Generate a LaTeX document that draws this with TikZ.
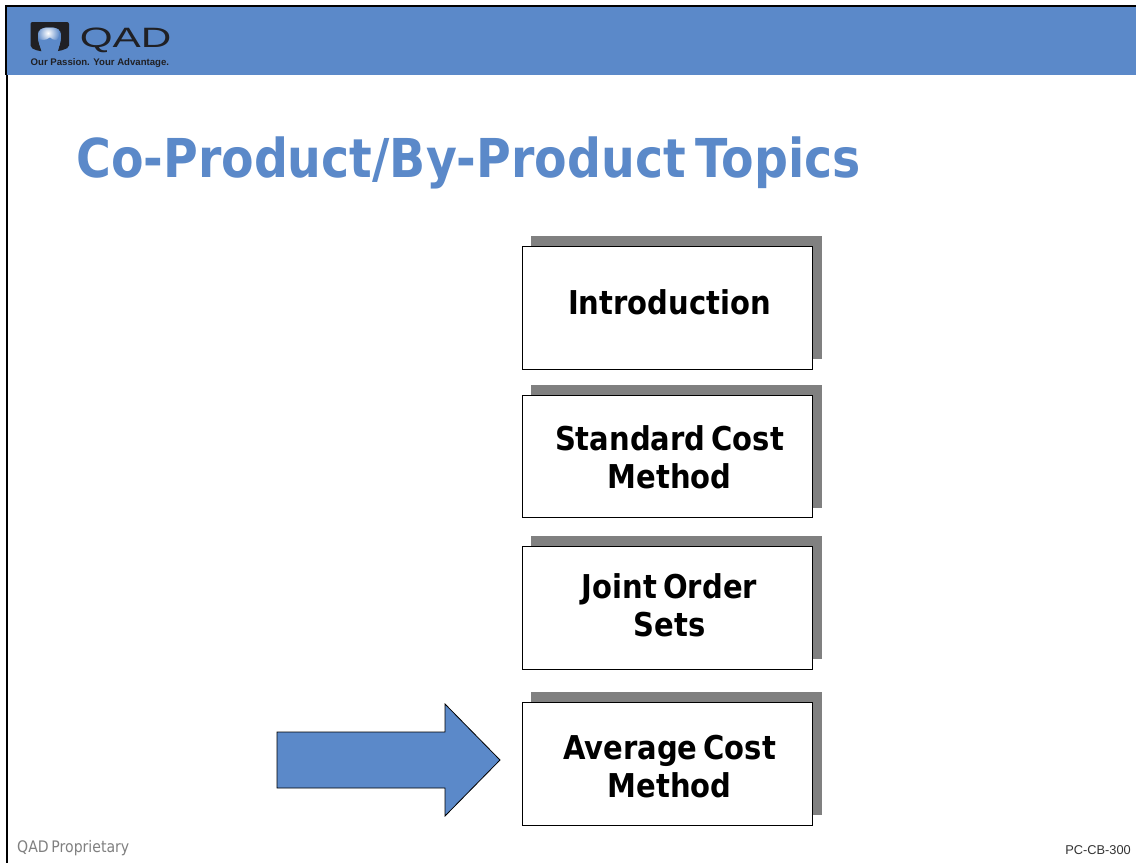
\documentclass[tikz,border=0pt]{standalone}
\usepackage{fontspec}
\setmainfont{DejaVu Sans}
\newfontfamily\tahoma[FakeStretch=0.885,WordSpace=0.6]{DejaVu Sans}
\newfontfamily\helv{Liberation Sans}
\definecolor{band}{RGB}{91,137,201}
\definecolor{shade}{RGB}{128,128,128}
\definecolor{logodark}{RGB}{32,32,36}
\tikzset{
  x=1pt,y=-1pt,
  shadowbox/.style={fill=shade,draw=none,minimum width=291pt,minimum height=123pt,inner sep=0pt,anchor=north west},
  topicbox/.style={fill=white,draw=black,line width=0.8pt,minimum width=290pt,minimum height=123pt,inner sep=0pt,anchor=north west},
  topictext/.style={font=\tahoma\bfseries\fontsize{32.8}{38}\selectfont,align=center,text=black,inner sep=0pt,anchor=center},
}
\begin{document}
\begin{tikzpicture}
\useasboundingbox (0,0) rectangle (1136,863);
\fill[white] (0,0) rectangle (1136,863);
% header band and frame
\fill[band] (6,6) rectangle (1136,75);
\fill[black] (5,4.5) rectangle (1136,6.5);
\fill[black] (5,4.5) rectangle (7,75);
\fill[black] (6.2,75) rectangle (8.2,863);
% logo
\fill[logodark,rounded corners=2pt] (30.5,22) -- (69,22) -- (69,47.5) -- (60,51) -- (38,51) -- (30.5,47.5) -- cycle;
\begin{scope}
\clip (42,52) .. controls (40,46) and (38,42) .. (38,36) .. controls (38,29) and (42,27.5) .. (49.5,27.5) .. controls (57,27.5) and (61,29) .. (61,36) .. controls (61,42) and (59,46) .. (57.5,52) -- cycle;
\fill[band] (30,20) rectangle (70,55);
\shade[inner color=white,outer color=band] (48,33) circle (11.5);
\fill[band] (36,55) -- (36,38) .. controls (42,41) and (46,40.5) .. (50,37.5) .. controls (53,40.5) and (57,41) .. (63,38) -- (63,55) -- cycle;
\end{scope}
\node[anchor=base west,inner sep=0pt,text=logodark,xscale=1.51,font=\helv\fontsize{28}{28}\selectfont] (logotext) at (79.5,47) {QAD};
\node[anchor=base west,inner sep=0pt,text=logodark,font=\helv\bfseries\fontsize{9.6}{10}\selectfont] (tagline) at (30.5,65) {Our Passion. Your Advantage.};
% title
\node[anchor=base west,inner sep=0pt,text=band,font=\tahoma\bfseries\fontsize{53.6}{56}\selectfont] (title) at (76,177) {Co-Product/By-Product Topics};
% boxes
\node[shadowbox] (s1) at (531,236) {};
\node[topicbox] (b1) at (522,246) {};
\node[topictext] (t1) at (669.5,302.5) {Introduction};
\node[shadowbox] (s2) at (531,385) {};
\node[topicbox,minimum height=122pt] (b2) at (522,395) {};
\node[topictext] (t2) at (669.5,457.5) {Standard Cost\\Method};
\node[shadowbox] (s3) at (531,536) {};
\node[topicbox] (b3) at (522,546) {};
\node[topictext] (t3) at (669.5,605.5) {Joint Order\\Sets};
\node[shadowbox] (s4) at (531,692) {};
\node[topicbox] (b4) at (522,702) {};
\node[topictext] (t4) at (669.5,766.5) {Average Cost\\Method};
% pointer arrow
\draw[fill=band,draw=black,line width=0.8pt,line join=miter] (277,732) -- (445,732) -- (445,704) -- (500,760) -- (445,816) -- (445,788) -- (277,788) -- cycle;
% footer
\node[anchor=base west,inner sep=0pt,text=shade,font=\tahoma\fontsize{15.9}{18}\selectfont] (prop) at (17,852) {QAD Proprietary};
\node[anchor=base east,inner sep=0pt,text=black!80,font=\helv\fontsize{12.8}{15}\selectfont] (code) at (1131,854) {PC-CB-300};
\end{tikzpicture}
\end{document}
